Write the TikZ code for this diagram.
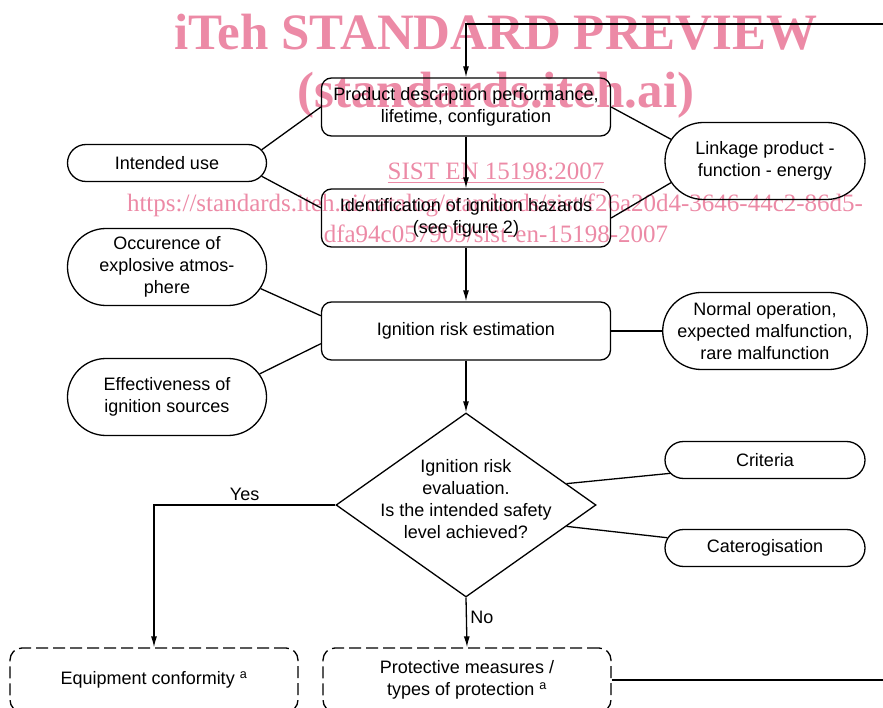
\documentclass[tikz,border=0pt]{standalone}
\usepackage{fontspec}
\setmainfont{Liberation Sans}
\newfontfamily\wmfont{Liberation Serif}
\usetikzlibrary{shapes.misc, shapes.geometric, arrows.meta, positioning}
\definecolor{wmpink}{RGB}{236,138,166}

\begin{document}
\begin{tikzpicture}[
  x=1pt, y=-1pt,
  font=\fontsize{18}{21.5}\selectfont,
  line width=1.3pt,
  >={Latex[length=11pt,width=6pt]},
  stepbox/.style={draw, rounded corners=10pt, minimum width=289pt, minimum height=58pt, align=center, inner sep=2pt},
  sidebox/.style={draw, rounded rectangle, minimum width=203pt, minimum height=37pt, align=center, inner sep=2pt},
  tallbox/.style={sidebox, minimum height=77pt, font=\fontsize{18}{22}\selectfont},
  resultbox/.style={draw, dash pattern=on 12pt off 5pt, rounded corners=12pt, minimum width=288pt, minimum height=64pt, align=center},
  watermark/.style={text=wmpink, anchor=base, inner sep=0pt}]

  \useasboundingbox (0,0) rectangle (883,708);

  % watermark
  \node[watermark, font=\wmfont\bfseries\fontsize{51}{51}\selectfont] (wmtitle) at (496,50) {iTeh STANDARD PREVIEW};
  \node[watermark, font=\wmfont\bfseries\fontsize{51}{51}\selectfont] (wmsite) at (496,108) {(standards.iteh.ai)};
  \node[watermark, font=\wmfont\fontsize{25}{25}\selectfont] (wmcode) at (496,180) {\underline{SIST EN 15198:2007}};
  \node[watermark, font=\wmfont\fontsize{25}{25}\selectfont] (wmurl) at (495,212) {https://standards.iteh.ai/catalog/standards/sist/f26a20d4-3646-44c2-86d5-};
  \node[watermark, font=\wmfont\fontsize{25}{25}\selectfont] (wmid) at (496,243) {dfa94c057909/sist-en-15198-2007};

  % main chain
  \node[stepbox] (prod) at (466,107) {Product description performance,\\ lifetime, configuration};
  \node[stepbox] (ident) at (466,218) {Identification of ignition hazards\\ (see figure 2)};
  \node[stepbox] (est) at (466,331) {Ignition risk estimation};
  \node[draw, diamond, minimum width=260pt, minimum height=184pt, inner sep=0pt] (eval) at (466,505) {};
  \node[align=center, font=\fontsize{18}{22}\selectfont] (evaltext) at (466,499) {Ignition risk\\ evaluation.\\ Is the intended safety\\ level achieved?};

  % side inputs
  \node[sidebox] (use) at (167,163) {Intended use};
  \node[tallbox, minimum width=204pt] (link) at (765,161) {Linkage product -\\ function - energy};
  \node[tallbox] (occ) at (167,267) {Occurence of\\ explosive atmos-\\ phere};
  \node[tallbox, minimum width=204pt] (normal) at (765,331) {Normal operation,\\ expected malfunction,\\ rare malfunction};
  \node[tallbox] (eff) at (167,397) {Effectiveness of\\ ignition sources};
  \node[sidebox, minimum width=204pt] (crit) at (765,460) {Criteria};
  \node[sidebox, minimum width=204pt] (cat) at (765,548) {Caterogisation};

  % results
  \node[resultbox] (equip) at (154,680) {Equipment conformity \textsuperscript{a}};
  \node[resultbox] (prot) at (467,680) {Protective measures /\\ types of protection \textsuperscript{a}};

  \coordinate (loopin) at (883,24);
  \coordinate (loopout) at (883,680);

  % arrows
  \draw[->] (loopin) -| (prod.north);
  \draw[->] (prod) -- (ident);
  \draw[->] (ident) -- (est);
  \draw[->] (est) -- (eval.north);
  \draw[->] (eval.west) -| node[pos=0.25, above] {Yes} (equip.north);
  \draw[->] (eval.south) -- node[right, pos=0.4] {No} (prot.north);
  \draw (prot.east) -- (loopout);

  % side lines
  \draw (use.8) -- (prod.west);
  \draw (use.-8) -- (ident.176);
  \draw (link.167) -- (prod.east);
  \draw (link.193) -- (ident.east);
  \draw (occ.-13) -- (est.174);
  \draw (eff.14) -- (est.185);
  \draw (normal.west) -- (est.east);
  \draw (crit.188) -- (eval.12);
  \draw (cat.174) -- (eval.-12);
\end{tikzpicture}
\end{document}
